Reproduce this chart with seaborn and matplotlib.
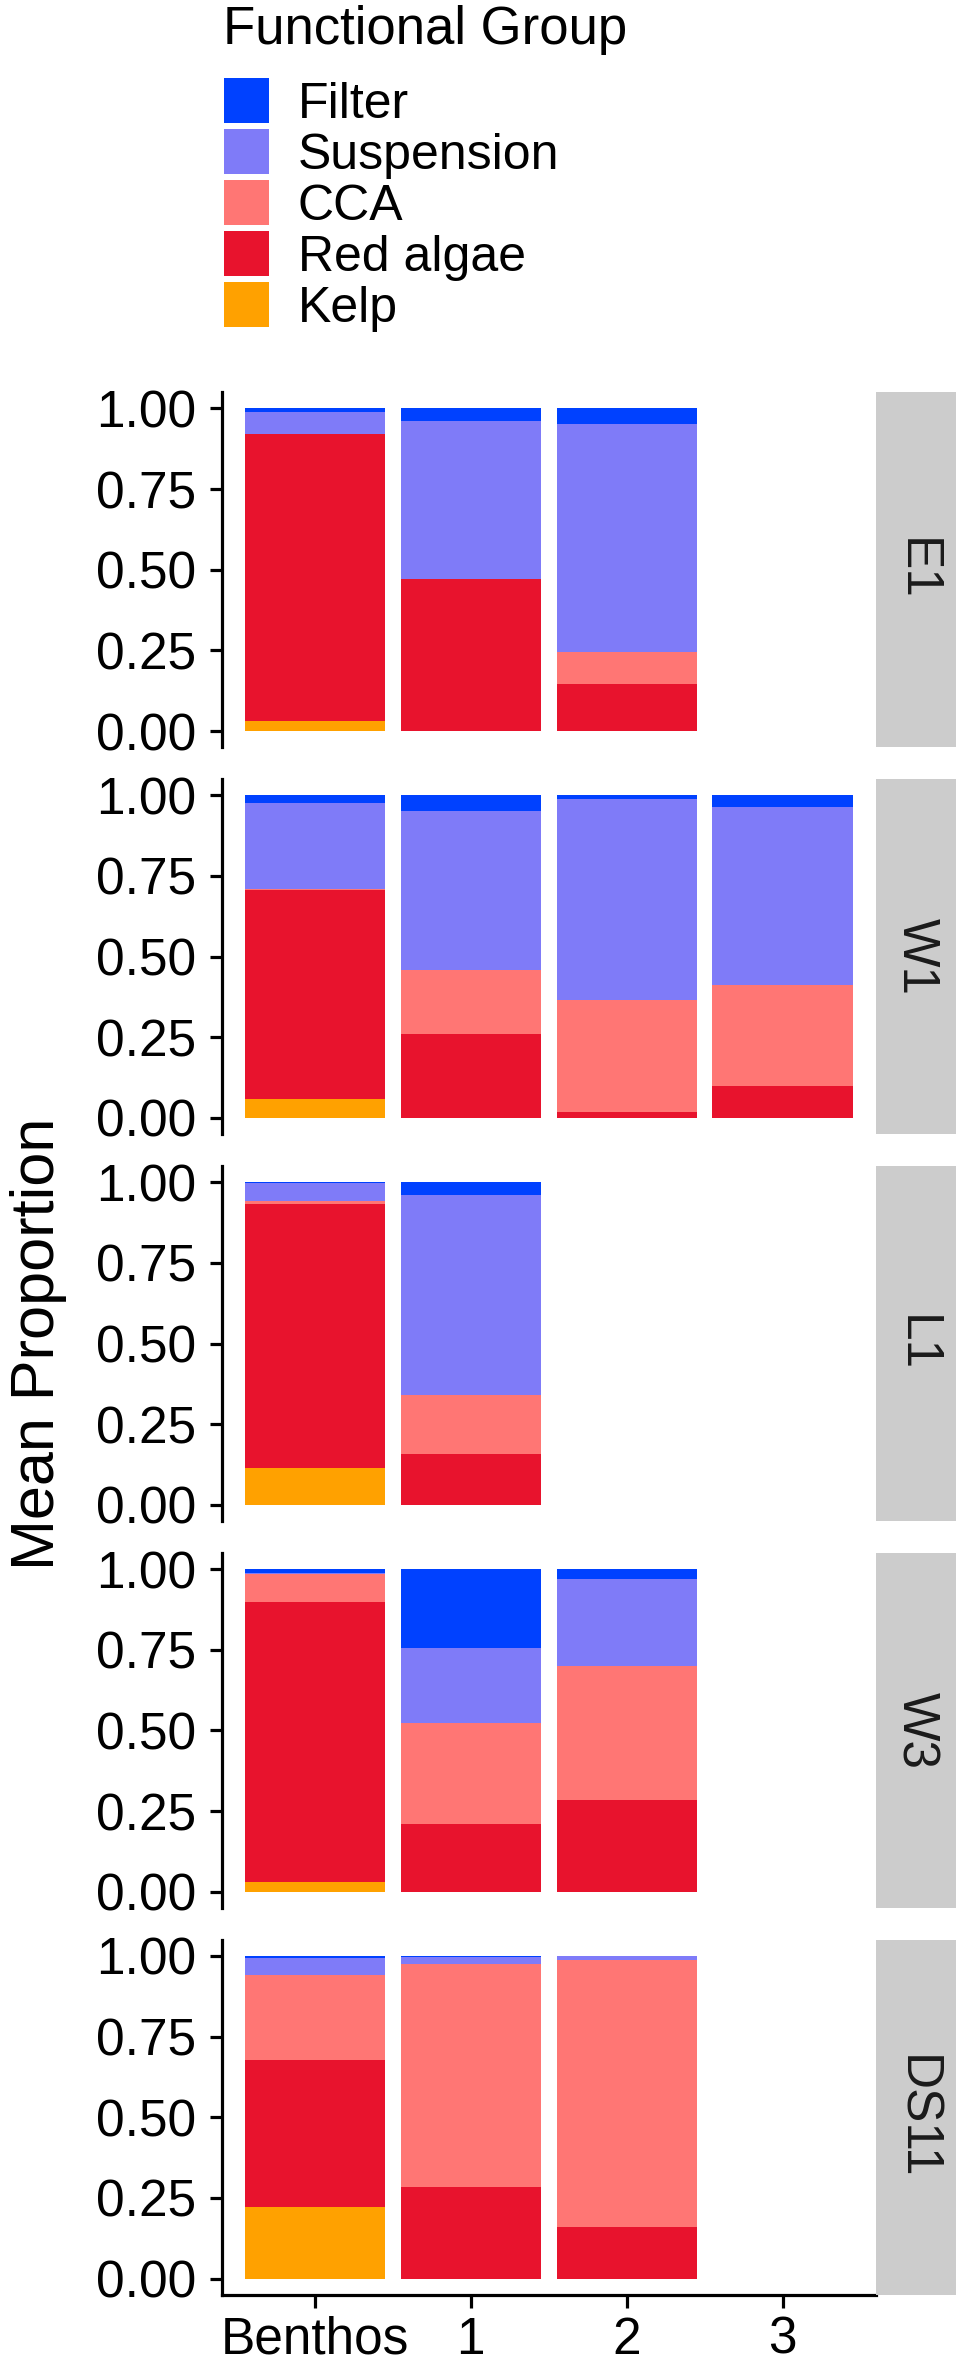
import matplotlib
matplotlib.use("Agg")
import matplotlib.pyplot as plt
from matplotlib.patches import Rectangle
import seaborn as sns
import pandas as pd
import numpy as np

# Data (mean proportions per site / sample)
samples = ["Benthos", "1", "2", "3"]
sites = ["E1", "W1", "L1", "W3", "DS11"]
groups = ["Filter", "Suspension", "CCA", "Red algae", "Kelp"]
group_colors = ["#0041FF", "#7F7BF8", "#FF7674", "#E8132D", "#FFA100"]

row_site = ["E1", "E1", "E1",
            "W1", "W1", "W1", "W1",
            "L1", "L1",
            "W3", "W3", "W3",
            "DS11", "DS11", "DS11"]
row_sample = ["Benthos", "1", "2",
              "Benthos", "1", "2", "3",
              "Benthos", "1",
              "Benthos", "1", "2",
              "Benthos", "1", "2"]
kelp = [0.030, 0.000, 0.000,
        0.060, 0.000, 0.000, 0.000,
        0.113, 0.000,
        0.031, 0.000, 0.000,
        0.222, 0.000, 0.000]
red_algae = [0.890, 0.470, 0.145,
             0.647, 0.260, 0.019, 0.098,
             0.820, 0.159,
             0.868, 0.211, 0.284,
             0.456, 0.285, 0.160]
cca = [0.000, 0.000, 0.100,
       0.003, 0.197, 0.347, 0.314,
       0.010, 0.180,
       0.085, 0.313, 0.414,
       0.263, 0.690, 0.828]
suspension = [0.070, 0.490, 0.705,
              0.265, 0.493, 0.621, 0.553,
              0.053, 0.622,
              0.003, 0.231, 0.272,
              0.054, 0.023, 0.012]
filter_feed = [0.010, 0.040, 0.050,
               0.025, 0.050, 0.013, 0.035,
               0.004, 0.039,
               0.013, 0.245, 0.030,
               0.005, 0.002, 0.000]

df = pd.DataFrame({
    "site": row_site,
    "sample": row_sample,
    "Kelp": kelp,
    "Red algae": red_algae,
    "CCA": cca,
    "Suspension": suspension,
    "Filter": filter_feed,
})

# cumulative heights, stacking from Kelp (bottom) up to Filter (top)
stack_order = groups[::-1]
running = np.zeros(len(df))
for g in stack_order:
    running = running + df[g].to_numpy()
    df["cum_" + g] = running

sns.set_style("ticks")
plt.rcParams["font.family"] = ["Liberation Sans", "DejaVu Sans"]
plt.rcParams["text.color"] = "black"

W, H = 961, 2369
fig = plt.figure(figsize=(W / 100, H / 100), dpi=100)


def px_axes(left, top, width, height):
    return fig.add_axes([left / W, 1 - (top + height) / H, width / W, height / H])


panel_left = 221.5
panel_width = 876 - panel_left
panel_top0 = 392.2
panel_pitch = 386.9
panel_height = 355.0
strip_width = 80

tick_fs = 37
line_w = 2.3

for i, site in enumerate(sites):
    top = panel_top0 + i * panel_pitch
    ax = px_axes(panel_left, top, panel_width, panel_height)
    sub = df[df["site"] == site]
    # draw tallest cumulative first so each layer shows as its own segment
    for g, col in zip(groups, group_colors):
        sns.barplot(data=sub, x="sample", y="cum_" + g, order=samples,
                    color=col, width=0.9, saturation=1, errorbar=None,
                    linewidth=0, ax=ax)
    ax.set_xlim(-0.6, 3.6)
    ax.set_ylim(-0.05, 1.05)
    ax.set_yticks([0, 0.25, 0.5, 0.75, 1.0])
    ax.set_yticklabels(["0.00", "0.25", "0.50", "0.75", "1.00"])
    ax.set_xlabel("")
    ax.set_ylabel("")
    ax.set_facecolor("white")
    for s in ["top", "right"]:
        ax.spines[s].set_visible(False)
    ax.spines["left"].set_linewidth(line_w)
    ax.spines["left"].set_color("black")
    ax.tick_params(axis="y", labelsize=tick_fs, length=9, width=line_w,
                   pad=9, colors="black")
    if i == len(sites) - 1:
        ax.spines["bottom"].set_linewidth(line_w)
        ax.spines["bottom"].set_color("black")
        ax.tick_params(axis="x", labelsize=tick_fs, length=9, width=line_w,
                       pad=6, colors="black")
    else:
        ax.spines["bottom"].set_visible(False)
        ax.tick_params(axis="x", bottom=False, labelbottom=False)

    # facet strip on the right
    sax = px_axes(876, top, strip_width, panel_height)
    sax.set_facecolor("#CCCCCC")
    for s in sax.spines.values():
        s.set_visible(False)
    sax.set_xticks([])
    sax.set_yticks([])
    sax.text(0.5, 0.5, site, rotation=270, ha="center", va="center",
             fontsize=tick_fs, color="#1A1A1A", transform=sax.transAxes)

# shared y label
fig.text(38.5 / W, 1 - 1343.7 / H, "Mean Proportion", rotation=90,
         ha="center", va="center", fontsize=44, color="black")

# legend drawn in pixel space at the top
lax = px_axes(0, 0, W, 380)
lax.set_xlim(0, W)
lax.set_ylim(380, 0)
lax.axis("off")
lax.text(223, 44, "Functional Group", fontsize=38, ha="left", va="baseline")
for k, (g, col) in enumerate(zip(groups, group_colors)):
    key_top = 78 + k * 51
    lax.add_patch(Rectangle((224, key_top), 45, 45, facecolor=col,
                            edgecolor="none"))
    lax.text(298, key_top + 22.5 + 17.5, g, fontsize=36, ha="left",
             va="baseline")

fig.savefig("out.png", dpi=100)
